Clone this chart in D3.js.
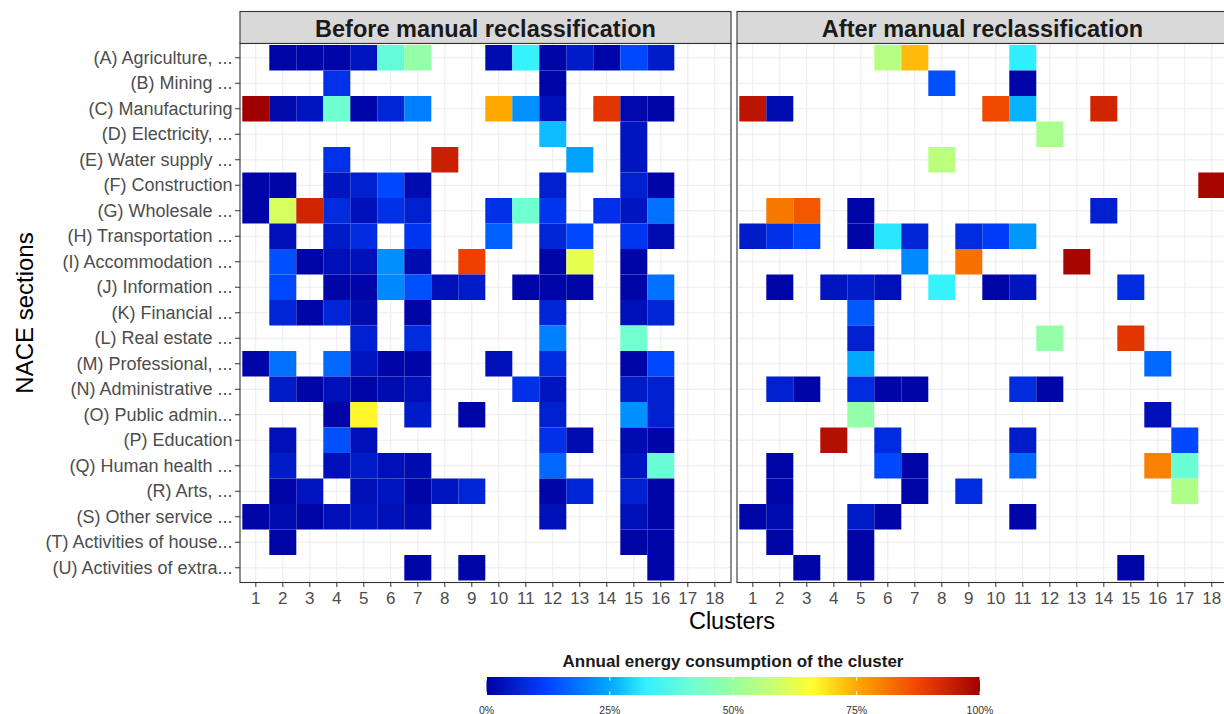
<!DOCTYPE html>
<html>
<head>
<meta charset="utf-8">
<script src="https://cdn.jsdelivr.net/npm/d3@7"></script>
<style>
  body { margin: 0; background: #fff; }
  svg { font-family: "Liberation Sans", Arial, sans-serif; display: block; }
</style>
</head>
<body>
<div id="chart"></div>
<script>
const n = null;

const sections = [
  "(A) Agriculture, ...", "(B) Mining ...", "(C) Manufacturing", "(D) Electricity, ...",
  "(E) Water supply ...", "(F) Construction", "(G) Wholesale ...", "(H) Transportation ...",
  "(I) Accommodation ...", "(J) Information ...", "(K) Financial ...", "(L) Real estate ...",
  "(M) Professional, ...", "(N) Administrative ...", "(O) Public admin...", "(P) Education",
  "(Q) Human health ...", "(R) Arts, ...", "(S) Other service ...", "(T) Activities of house...",
  "(U) Activities of extra..."
];

const clusters = d3.range(1, 19).map(String);

const panels = ["Before manual reclassification", "After manual reclassification"];

// share of the cluster's annual energy consumption, rows = sections, cols = clusters 1..18
const beforeValues = [
  [n, .01, .01, .01, .04, .40, .49, n, n, .02, .33, .01, .05, .01, .13, .05, n, n],
  [n, n, n, .09, n, n, n, n, n, n, n, .01, n, n, n, n, n, n],
  [1.0, .015, .04, .42, .01, .07, .20, n, n, .75, .22, .03, n, .90, .015, .01, n, n],
  [n, n, n, n, n, n, n, n, n, n, n, .27, n, n, .04, n, n, n],
  [n, n, n, .09, n, n, n, .94, n, n, n, n, .24, n, .04, n, n, n],
  [.01, .01, n, .04, .06, .13, .02, n, n, n, n, .06, n, n, .06, .01, n, n],
  [.01, .60, .93, .08, .03, .09, .06, n, n, .09, .42, .10, n, .09, .04, .18, n, n],
  [n, .03, n, .05, .08, n, .10, n, n, .16, n, .07, .13, n, .10, .02, n, n],
  [n, .14, .01, .03, .03, .22, .02, n, .88, n, n, .01, .62, n, .01, n, n, n],
  [n, .13, n, .01, .01, .21, .14, .03, .05, n, .01, .01, .01, n, .01, .18, n, n],
  [n, .07, .01, .07, .02, n, .01, n, n, n, n, .07, n, n, .03, .07, n, n],
  [n, n, n, n, .06, n, .08, n, n, n, n, .20, n, n, .42, n, n, n],
  [.01, .18, n, .17, .04, .01, .01, n, n, .03, n, .08, n, n, .01, .13, n, n],
  [n, .05, .01, .03, .01, .02, .03, n, n, n, .09, .04, n, n, .05, .06, n, n],
  [n, n, n, .01, .67, n, .05, n, .01, n, n, .06, n, n, .22, .06, n, n],
  [n, .03, n, .14, .03, n, n, n, n, n, n, .09, .02, n, .02, .01, n, n],
  [n, .05, n, .03, .05, .03, .02, n, n, n, n, .17, n, n, .04, .41, n, n],
  [n, .01, .04, n, .03, .04, .01, .04, .07, n, n, .01, .07, n, .06, .01, n, n],
  [.01, .02, .01, .03, .04, .03, .02, n, n, n, n, .03, n, n, .03, .01, n, n],
  [n, .01, n, n, n, n, n, n, n, n, n, n, n, n, .01, .01, n, n],
  [n, n, n, n, n, n, .01, n, .01, n, n, n, n, n, n, .01, n, n]
];

const afterValues = [
  [n, n, n, n, n, .55, .73, n, n, n, .32, n, n, n, n, n, n, n],
  [n, n, n, n, n, n, n, .14, n, n, .01, n, n, n, n, n, n, n],
  [.96, .02, n, n, n, n, n, n, n, .87, .26, n, n, .93, n, n, n, n],
  [n, n, n, n, n, n, n, n, n, n, n, .53, n, n, n, n, n, n],
  [n, n, n, n, n, n, n, .56, n, n, n, n, n, n, n, n, n, n],
  [n, n, n, n, n, n, n, n, n, n, n, n, n, n, n, n, n, .99],
  [n, .81, .85, n, .01, n, n, n, n, n, n, n, n, .06, n, n, n, n],
  [.05, .09, .13, n, .01, .31, .07, n, .08, .11, .23, n, n, n, n, n, n, n],
  [n, n, n, n, n, n, .21, n, .82, n, n, n, .99, n, n, n, n, n],
  [n, .01, n, .04, .05, .03, n, .33, n, .01, .04, n, n, n, .08, n, n, n],
  [n, n, n, n, .15, n, n, n, n, n, n, n, n, n, n, n, n, n],
  [n, n, n, n, .06, n, n, n, n, n, n, .49, n, n, .90, n, n, n],
  [n, n, n, n, .25, n, n, n, n, n, n, n, n, n, n, .17, n, n],
  [n, .06, .01, n, .08, .01, .01, n, n, n, .08, .01, n, n, n, n, n, n],
  [n, n, n, n, .49, n, n, n, n, n, n, n, n, n, n, .03, n, n],
  [n, n, n, .97, n, .08, n, n, n, n, .05, n, n, n, n, n, .13, n],
  [n, .01, n, n, n, .13, .01, n, n, n, .17, n, n, n, n, .80, .41, n],
  [n, .01, n, n, n, n, .01, n, .08, n, n, n, n, n, n, n, .54, n],
  [.01, .02, n, n, .05, .01, n, n, n, n, .01, n, n, n, n, n, n, n],
  [n, .01, n, n, .01, n, n, n, n, n, n, n, n, n, n, n, n, n],
  [n, n, .01, n, .01, n, n, n, n, n, n, n, n, n, .01, n, n, n]
];

const legendBreaks = [0, 0.25, 0.5, 0.75, 1];

// jet-like palette
const colorStops = [0, .12, .25, .32, .42, .50, .58, .66, .75, .88, 1];
const colorRange = ["#0000a0", "#0040ff", "#00a8ff", "#30f0ff", "#70ffd0", "#98ffa0",
                    "#c8ff70", "#ffff30", "#ffa800", "#f04000", "#a00000"];

const width = 1224, height = 714;
const panelTop = 43.5, panelBottom = 582.5;
const panelX = [240, 737];
const panelW = 491;

const color = d3.scaleLinear().domain(colorStops).range(colorRange).interpolate(d3.interpolateRgb);

const y = d3.scaleBand().domain(sections).range([45, 580.5]).padding(0);

const svg = d3.select("#chart").append("svg")
  .attr("width", width)
  .attr("height", height);

function cellsOf(values){
  const out = [];
  values.forEach((row, i) => row.forEach((v, j) => {
    if (v !== null) out.push({section: sections[i], cluster: clusters[j], value: v});
  }));
  return out;
}

[beforeValues, afterValues].forEach((values, p) => {
  const x0 = panelX[p];
  const x = d3.scaleBand().domain(clusters).range([x0 + 2.3, x0 + 2.3 + 486]).padding(0);

  const g = svg.append("g");

  // strip
  g.append("rect")
    .attr("x", x0).attr("y", 11.5)
    .attr("width", panelW).attr("height", panelTop - 11.5)
    .attr("fill", "#d9d9d9").attr("stroke", "#333").attr("stroke-width", 1.1);
  g.append("text")
    .attr("x", x0 + panelW / 2).attr("y", 28.5)
    .attr("dy", "0.36em")
    .attr("text-anchor", "middle")
    .attr("font-size", 23.5).attr("font-weight", "bold")
    .attr("fill", "#1a1a1a")
    .text(panels[p]);

  // grid
  g.append("rect").attr("x", x0).attr("y", panelTop).attr("width", panelW).attr("height", panelBottom - panelTop).attr("fill", "#fff");
  g.selectAll(".vgrid").data(clusters).enter().append("line")
    .attr("x1", d => x(d) + x.bandwidth() / 2).attr("x2", d => x(d) + x.bandwidth() / 2)
    .attr("y1", panelTop).attr("y2", panelBottom)
    .attr("stroke", "#ebebeb").attr("stroke-width", 1);
  g.selectAll(".hgrid").data(sections).enter().append("line")
    .attr("x1", x0).attr("x2", x0 + panelW)
    .attr("y1", d => y(d) + y.bandwidth() / 2).attr("y2", d => y(d) + y.bandwidth() / 2)
    .attr("stroke", "#ebebeb").attr("stroke-width", 1);

  // tiles
  g.selectAll(".tile").data(cellsOf(values)).enter().append("rect")
    .attr("x", d => x(d.cluster))
    .attr("y", d => y(d.section))
    .attr("width", x.bandwidth())
    .attr("height", y.bandwidth())
    .attr("fill", d => color(d.value));

  // border
  g.append("rect").attr("x", x0).attr("y", panelTop).attr("width", panelW).attr("height", panelBottom - panelTop)
    .attr("fill", "none").attr("stroke", "#333").attr("stroke-width", 1.1);

  // x axis
  const xa = g.append("g").attr("transform", `translate(0,${panelBottom})`)
    .call(d3.axisBottom(x).tickSize(4.5).tickPadding(4.5));
  xa.select(".domain").remove();
  xa.selectAll("line").attr("stroke", "#333");
  xa.selectAll("text").attr("font-size", 17).attr("fill", "#4d4d4d").attr("font-family", "Liberation Sans, Arial, sans-serif");

  if (p === 0){
    const ya = g.append("g").attr("transform", `translate(${x0},0)`)
      .call(d3.axisLeft(y).tickSize(5).tickPadding(2.5));
    ya.select(".domain").remove();
    ya.selectAll("line").attr("stroke", "#333");
    ya.selectAll("text").attr("font-size", 18).attr("fill", "#4d4d4d").attr("font-family", "Liberation Sans, Arial, sans-serif");
  }
});

// axis titles
svg.append("text")
  .attr("x", 732).attr("y", 628.5)
  .attr("text-anchor", "middle")
  .attr("font-size", 23.5).attr("fill", "#000")
  .text("Clusters");
svg.append("text")
  .attr("transform", "translate(33,313) rotate(-90)")
  .attr("text-anchor", "middle")
  .attr("font-size", 24).attr("fill", "#000")
  .text("NACE sections");

// legend
const lx = d3.scaleLinear().domain([0, 1]).range([486.5, 980]);
const defs = svg.append("defs");
const grad = defs.append("linearGradient").attr("id", "jet").attr("x1", "0%").attr("x2", "100%");
grad.selectAll("stop").data(d3.range(0, 1.0001, 0.02)).enter().append("stop")
  .attr("offset", d => d * 100 + "%")
  .attr("stop-color", d => color(d));

svg.append("text")
  .attr("x", 733).attr("y", 667)
  .attr("text-anchor", "middle")
  .attr("font-size", 17).attr("font-weight", "bold").attr("fill", "#1a1a1a")
  .text("Annual energy consumption of the cluster");

svg.append("rect")
  .attr("x", lx(0)).attr("y", 677)
  .attr("width", lx(1) - lx(0)).attr("height", 18)
  .attr("fill", "url(#jet)");

svg.selectAll(".ltick").data(legendBreaks).enter().append("g").each(function(d){
  const gg = d3.select(this);
  gg.append("line").attr("x1", lx(d)).attr("x2", lx(d)).attr("y1", 677).attr("y2", 680.6)
    .attr("stroke", "#fff").attr("stroke-width", 1);
  gg.append("line").attr("x1", lx(d)).attr("x2", lx(d)).attr("y1", 691.4).attr("y2", 695)
    .attr("stroke", "#fff").attr("stroke-width", 1);
});

svg.selectAll(".llabel").data(legendBreaks).enter().append("text")
  .attr("x", d => lx(d)).attr("y", 713.5)
  .attr("text-anchor", "middle")
  .attr("font-size", 10.5).attr("fill", "#333")
  .text(d => d3.format(".0%")(d));
</script>
</body>
</html>
